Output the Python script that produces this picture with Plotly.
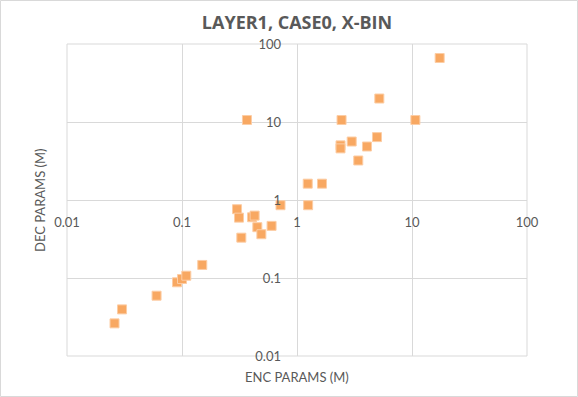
import plotly.graph_objects as go

# Data (ENC params vs DEC params, millions)
enc_params = [0.0259, 0.0301, 0.0601, 0.0905, 0.100, 0.109, 0.150,
              0.301, 0.313, 0.328, 0.407, 0.428, 0.452, 0.490, 0.601, 0.719,
              0.367, 1.24, 1.65, 1.25, 2.44, 2.39, 2.39, 2.99, 3.41, 4.06,
              4.96, 5.20, 10.7, 17.4]
dec_params = [0.0262, 0.0396, 0.0593, 0.0881, 0.097, 0.107, 0.147,
              0.762, 0.594, 0.329, 0.601, 0.631, 0.448, 0.364, 0.466, 0.857,
              10.6, 1.62, 1.62, 0.857, 10.6, 5.02, 4.59, 5.62, 3.21, 4.85,
              6.40, 20.0, 10.6, 66.1]

tick_vals = [0.01, 0.1, 1, 10, 100]
tick_text = ["0.01", "0.1", "1", "10", "100"]

title_text = "LAYER1, CASE0, X-BIN"
x_title = "ENC PARAMS (M)"
y_title = "DEC PARAMS (M)"

GRID = "#d9d9d9"
TXT = "#595959"
FONT = "Lato"

fig = go.Figure()
fig.add_trace(go.Scatter(
    x=enc_params, y=dec_params, mode="markers",
    marker=dict(symbol="square", size=9, color="rgb(248,168,98)",
                line=dict(color="rgb(252,205,165)", width=1)),
    hoverinfo="x+y", showlegend=False,
))

W, H = 578, 397
L, R, T, B = 67, 51, 44, 41
pw, ph = W - L - R, H - T - B

axis_common = dict(
    type="log", range=[-2, 2], tickvals=tick_vals, ticktext=tick_text,
    showgrid=True, gridcolor=GRID, gridwidth=1, zeroline=False,
    showline=False, ticks="", anchor="free", position=0.5,
    tickfont=dict(family=FONT, size=13, color=TXT),
)

fig.update_layout(
    width=W, height=H,
    margin=dict(l=L, r=R, t=T, b=B, pad=0),
    paper_bgcolor="white", plot_bgcolor="white",
    title=dict(text=title_text, x=0.5, xref="paper", xanchor="center",
               y=1 - 22.5 / H, yref="container", yanchor="middle",
               font=dict(family="Open Sans", size=18, color=TXT, weight="bold")),
    xaxis=dict(axis_common, ticklabelstandoff=13),
    yaxis=dict(axis_common, ticklabelstandoff=16),
    annotations=[
        dict(text=x_title, xref="paper", yref="paper", x=0.5,
             y=-(377 - (H - B)) / ph, xanchor="center", yanchor="middle",
             showarrow=False, font=dict(family=FONT, size=13, color=TXT)),
        dict(text=y_title, xref="paper", yref="paper", x=(40 - L) / pw,
             y=0.5, xanchor="center", yanchor="middle", textangle=-90,
             showarrow=False, font=dict(family=FONT, size=13, color=TXT)),
    ],
    shapes=[
        dict(type="rect", xref="paper", yref="paper", x0=0, x1=1, y0=0, y1=1,
             line=dict(color=GRID, width=1), layer="below"),
        dict(type="rect", xref="paper", yref="paper",
             x0=-(L - 0.5) / pw, x1=(pw + R - 0.5) / pw,
             y0=-(B - 0.5) / ph, y1=(ph + T - 0.5) / ph,
             line=dict(color=GRID, width=1), layer="below"),
    ],
)

fig.write_html("out.html", config={"displayModeBar": False},
               post_script="document.body.style.margin='0';")
